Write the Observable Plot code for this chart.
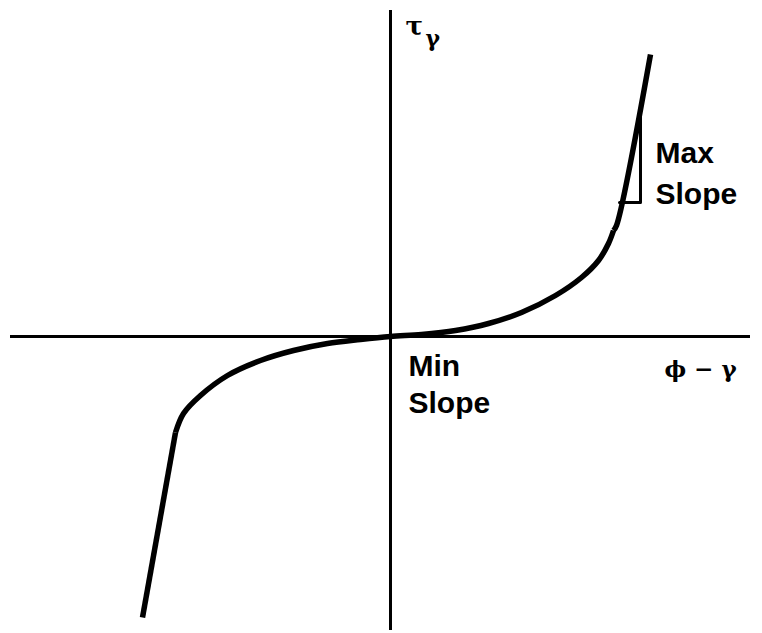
<!DOCTYPE html>
<html>
<head>
<meta charset="utf-8">
<script src="https://cdn.jsdelivr.net/npm/d3@7"></script>
<script src="https://cdn.jsdelivr.net/npm/@observablehq/plot@0.6"></script>
<style>
  html, body { margin: 0; padding: 0; background: #fff; }
  #chart svg { display: block; }
</style>
</head>
<body>
<div id="chart"></div>
<script>
// Curve pieces (x = ϕ − γ, y = τγ)
const leftLineX  = [-2.48, -2.15];
const leftLineY  = [-2.81, -0.96];
const midCurveX  = [-2.15, -2.07, -1.90, -1.63, -1.30, -0.97, -0.63, -0.30, 0, 0.31, 0.65, 0.98, 1.31, 1.65, 1.91, 2.08, 2.18, 2.23];
const midCurveY  = [-0.96, -0.77, -0.59, -0.39, -0.24, -0.14, -0.07, -0.03, 0, 0.02, 0.06, 0.13, 0.24, 0.41, 0.59, 0.76, 0.93, 1.06];
const rightLineX = [2.23, 2.26, 2.60];
const rightLineY = [1.06, 1.11, 2.82];
// Slope triangle
const triX = [2.29, 2.50, 2.50];
const triY = [1.34, 1.34, 2.29];

const segments = [
  {name: "left", xs: leftLineX, ys: leftLineY},
  {name: "mid", xs: midCurveX, ys: midCurveY},
  {name: "right", xs: rightLineX, ys: rightLineY}
];
const curve = segments.flatMap(s => s.xs.map((x, i) => ({seg: s.name, x, y: s.ys[i]})));
const tri = triX.map((x, i) => ({x, y: triY[i]}));

const labels = [
  {x: 2.65, y: 1.74, text: "Max"},
  {x: 2.65, y: 1.33, text: "Slope"},
  {x: 0.18, y: -0.39, text: "Min"},
  {x: 0.18, y: -0.76, text: "Slope"}
];

const plot = Plot.plot({
  width: 762,
  height: 633,
  marginLeft: 10,
  marginRight: 12,
  marginTop: 10,
  marginBottom: 3,
  x: {domain: [-3.80, 3.60], axis: null},
  y: {domain: [-2.94, 3.26], axis: null},
  marks: [
    Plot.ruleY([0], {stroke: "black", strokeWidth: 3}),
    Plot.ruleX([0], {stroke: "black", strokeWidth: 3}),
    Plot.line(curve, {x: "x", y: "y", z: "seg", curve: "catmull-rom", stroke: "black", strokeWidth: 5.5, strokeLinecap: "butt"}),
    Plot.line(tri, {x: "x", y: "y", stroke: "black", strokeWidth: 3}),
    Plot.text(labels, {x: "x", y: "y", text: "text", textAnchor: "start", lineAnchor: "bottom", fontSize: 30, fontWeight: "bold", fontFamily: "Liberation Sans, Arial, sans-serif", fill: "black"}),
    Plot.text(["τ"], {x: 0.15, y: 3.02, text: d => d, textAnchor: "start", lineAnchor: "bottom", fontSize: 26, fontWeight: "bold", fontFamily: "DejaVu Serif, serif"}),
    Plot.text(["γ"], {x: 0.35, y: 2.91, text: d => d, textAnchor: "start", lineAnchor: "bottom", fontSize: 22, fontWeight: "bold", fontFamily: "DejaVu Serif, serif"}),
    Plot.text(["ϕ − γ"], {x: 3.10, y: -0.40, text: d => d, textAnchor: "middle", lineAnchor: "bottom", fontSize: 23, fontWeight: "bold", fontFamily: "DejaVu Serif, serif"})
  ]
});
document.getElementById("chart").appendChild(plot);
</script>
</body>
</html>
